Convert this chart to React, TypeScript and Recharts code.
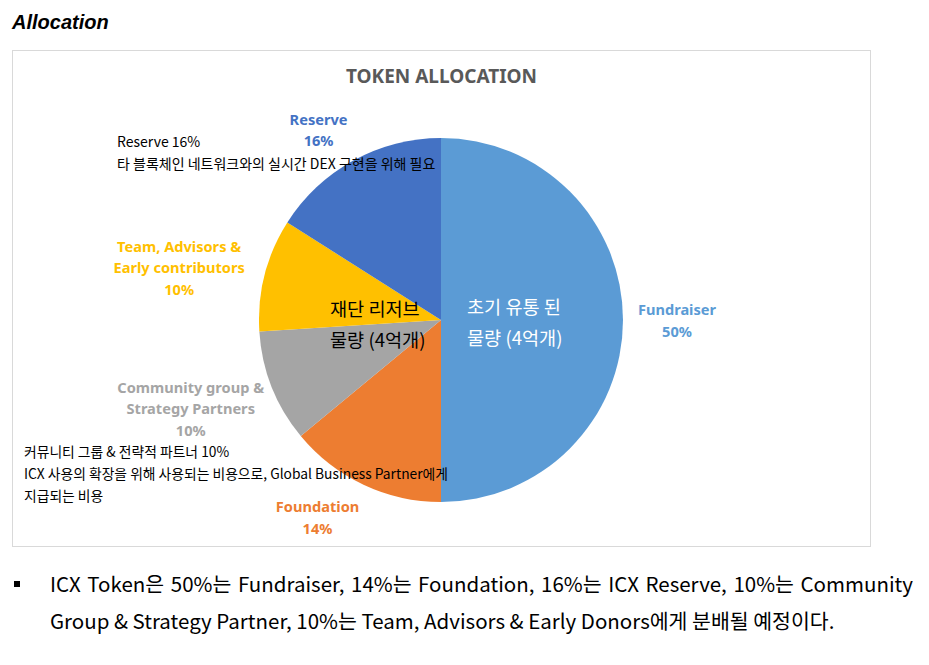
import React from "react";
import { Cell, Pie, PieChart } from "recharts";

// Slice data, in drawing order (clockwise from 12 o'clock).
const categories = ["Fundraiser", "Foundation", "Community group & Strategy Partners", "Team, Advisors & Early contributors", "Reserve"];
const labelLines = [["Fundraiser"], ["Foundation"], ["Community group &", "Strategy Partners"], ["Team, Advisors &", "Early contributors"], ["Reserve"]];
const shares = [50, 14, 10, 10, 16];
const sliceColors = ["#5B9BD5", "#ED7D31", "#A5A5A5", "#FFC000", "#4472C4"];

const chartTitle = "TOKEN ALLOCATION";
const reserveNote = ["Reserve 16%", "타 블록체인 네트워크와의 실시간 DEX 구현을 위해 필요"];
const communityNote = ["커뮤니티 그룹 & 전략적 파트너 10%", "ICX 사용의 확장을 위해 사용되는 비용으로, Global Business Partner에게", "지급되는 비용"];
const reserveInside = ["재단 리저브", "물량 (4억개)"];
const fundraiserInside = ["초기 유통 된", "물량 (4억개)"];
const summaryLines = [
  "ICX Token은 50%는 Fundraiser, 14%는 Foundation, 16%는 ICX Reserve, 10%는 Community",
  "Group & Strategy Partner, 10%는 Team, Advisors & Early Donors에게 분배될 예정이다."
];

const data = categories.map((name, i) => ({ name, value: shares[i] }));

const RADIAN = Math.PI / 180;
const LINE_H = 21.5;
const CHAR_W = 8;

// Excel-like "outside end" label: box hugs the pie edge along the mid angle.
function SliceLabel(props: any) {
  const { cx, cy, midAngle, outerRadius, index, value } = props;
  const lines = [...labelLines[index], `${value}%`];
  const cos = Math.cos(-midAngle * RADIAN);
  const sin = Math.sin(-midAngle * RADIAN);
  const w = Math.max(...lines.map((l) => l.length)) * CHAR_W;
  const h = lines.length * LINE_H;
  const ax = cx + (outerRadius + 14) * cos;
  const ay = cy + (outerRadius + 14) * sin;
  const bx = ax + (Math.abs(cos) < 0.05 ? 0 : Math.sign(cos)) * (w / 2);
  const by = ay + sin * (h / 2) + (lines.length > 2 ? 4 : 0);
  const top = by - h / 2 + LINE_H / 2;
  return (
    <text
      x={bx}
      y={top}
      textAnchor="middle"
      dominantBaseline="central"
      fill={sliceColors[index]}
      style={{ fontFamily: "'Noto Sans', sans-serif", fontWeight: 700, fontSize: 14.6 }}
    >
      {lines.map((l, i) => (
        <tspan key={i} x={bx} y={top + i * LINE_H}>
          {l}
        </tspan>
      ))}
    </text>
  );
}

const kr = "'Noto Sans CJK KR', 'Noto Sans', sans-serif";

function Note(props: { lines: string[]; left: number; top: number; size: number; lh: number; color?: string }) {
  return (
    <div
      style={{
        position: "absolute",
        left: props.left,
        top: props.top,
        fontFamily: kr,
        fontSize: props.size,
        lineHeight: `${props.lh}px`,
        color: props.color ?? "#000",
        whiteSpace: "nowrap"
      }}
    >
      {props.lines.map((l, i) => (
        <div key={i}>{l}</div>
      ))}
    </div>
  );
}

export default function App() {
  return (
    <div style={{ position: "absolute", left: 0, top: 0, width: 929, height: 665, background: "#fff", overflow: "hidden" }}>
      <style>{`.recharts-pie-sectors { filter: drop-shadow(0 0 3px rgba(0,0,0,0.35)); }`}</style>
      <div
        style={{
          position: "absolute",
          left: 12,
          top: 11,
          fontFamily: "'Liberation Sans', Arial, sans-serif",
          fontWeight: 700,
          fontStyle: "italic",
          fontSize: 20
        }}
      >
        Allocation
      </div>

      <div style={{ position: "absolute", left: 12, top: 50, width: 859, height: 497, border: "1px solid #d9d9d9", boxSizing: "border-box" }}>
        <PieChart width={857} height={495} margin={{ top: 0, right: 0, bottom: 0, left: 0 }}>
          <Pie
            data={data}
            dataKey="value"
            nameKey="name"
            cx={428}
            cy={269}
            outerRadius={182}
            startAngle={90}
            endAngle={-270}
            stroke="none"
            label={SliceLabel}
            labelLine={false}
            isAnimationActive={false}
          >
            {data.map((d, i) => (
              <Cell key={d.name} fill={sliceColors[i]} />
            ))}
          </Pie>
        </PieChart>
      </div>

      <div
        style={{
          position: "absolute",
          left: 12,
          width: 859,
          top: 63,
          textAlign: "center",
          fontFamily: "'Noto Sans', sans-serif",
          fontWeight: 700,
          fontSize: 19,
          color: "#595959"
        }}
      >
        {chartTitle}
      </div>

      <Note lines={reserveNote} left={117} top={130} size={14} lh={22} />
      <Note lines={communityNote} left={24} top={440} size={13.8} lh={22} />
      <Note lines={reserveInside} left={330} top={292} size={18.6} lh={31} />
      <Note lines={fundraiserInside} left={467} top={290} size={18.6} lh={31} color="#fff" />

      <div style={{ position: "absolute", left: 14, top: 581, width: 6, height: 6, background: "#000" }} />
      <div style={{ position: "absolute", left: 50, top: 565, width: 863, fontFamily: kr, fontSize: 20.5, lineHeight: "37px", color: "#000" }}>
        <div style={{ textAlign: "justify", textAlignLast: "justify", whiteSpace: "normal" }}>{summaryLines[0]}</div>
        <div style={{ whiteSpace: "nowrap" }}>{summaryLines[1]}</div>
      </div>
    </div>
  );
}
